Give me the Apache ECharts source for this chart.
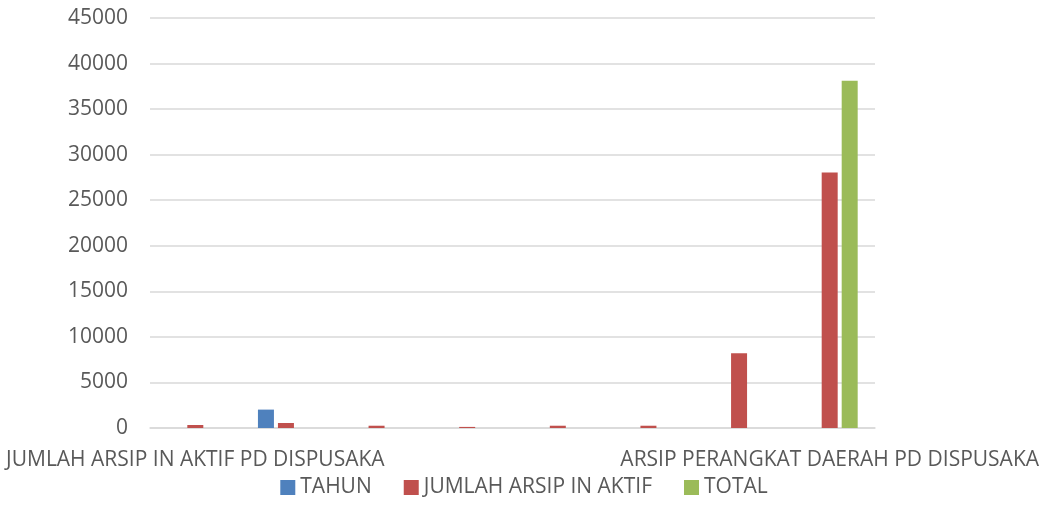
<!DOCTYPE html>
<html>
<head>
<meta charset="utf-8">
<script src="https://cdn.jsdelivr.net/npm/echarts@6/dist/echarts.min.js"></script>
<style>html,body{margin:0;padding:0;background:#fff;}#c{width:1048px;height:524px;}</style>
</head>
<body>
<div id="c"></div>
<script>
const categories = ['JUMLAH ARSIP IN AKTIF PD DISPUSAKA', '', '', '', '', '', '', 'ARSIP PERANGKAT DAERAH PD DISPUSAKA'];
const tahun = [0, 2019, 0, 0, 0, 0, 0, 0];
const jumlahArsip = [330, 550, 250, 120, 250, 250, 8200, 28050];
const total = [0, 0, 0, 0, 0, 0, 0, 38100];
const seriesNames = ['TAHUN', 'JUMLAH ARSIP IN AKTIF', 'TOTAL'];

const font = 'Open Sans';
const chart = echarts.init(document.getElementById('c'));
chart.setOption({
  animation: false,
  grid: { left: 150, right: 173, top: 18, bottom: 96 },
  legend: {
    bottom: 21, left: 'center', itemWidth: 15, itemHeight: 15, itemGap: 32,
    icon: 'rect',
    textStyle: { color: '#595959', fontSize: 21, fontFamily: font }
  },
  xAxis: {
    type: 'category', data: categories,
    axisLine: { lineStyle: { color: '#d9d9d9', width: 1.5 } },
    axisTick: { show: false },
    axisLabel: { interval: 0, color: '#595959', fontSize: 21, fontFamily: font, margin: 22 }
  },
  yAxis: {
    type: 'value', min: 0, max: 45000, interval: 5000,
    axisLine: { show: false }, axisTick: { show: false },
    axisLabel: { color: '#595959', fontSize: 21, fontFamily: font, margin: 22, formatter: v => String(v) },
    splitLine: { lineStyle: { color: '#d9d9d9', width: 1.5 } }
  },
  series: [
    { name: seriesNames[0], type: 'bar', data: tahun, barWidth: 16, barGap: '25%', itemStyle: { color: '#4F81BD' } },
    { name: seriesNames[1], type: 'bar', data: jumlahArsip, barWidth: 16, barGap: '25%', itemStyle: { color: '#C0504D' } },
    { name: seriesNames[2], type: 'bar', data: total, barWidth: 16, barGap: '25%', itemStyle: { color: '#9BBB59' } }
  ]
});
</script>
</body>
</html>
